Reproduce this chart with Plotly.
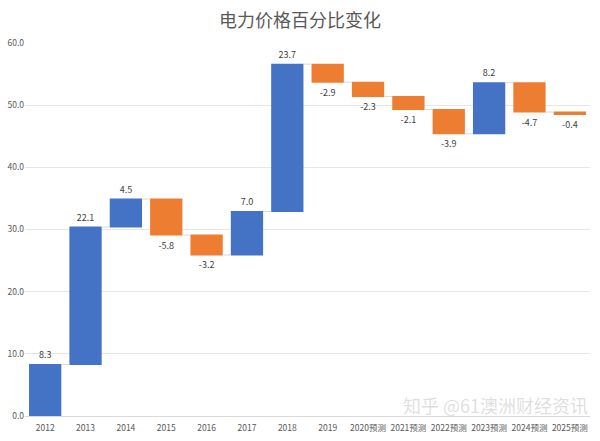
import plotly.graph_objects as go

categories = ["2012", "2013", "2014", "2015", "2016", "2017", "2018", "2019",
              "2020预测", "2021预测", "2022预测", "2023预测", "2024预测", "2025预测"]
changes = [8.3, 22.1, 4.5, -5.8, -3.2, 7.0, 23.7, -2.9, -2.3, -2.1, -3.9, 8.2, -4.7, -0.4]
y_ticks = [0, 10, 20, 30, 40, 50, 60]
title_text = "电力价格百分比变化"
watermark = "知乎 @61澳洲财经资讯"

font_family = "Noto Sans CJK SC, Noto Sans, sans-serif"

fig = go.Figure(go.Waterfall(
    x=categories,
    y=changes,
    measure=["relative"] * len(changes),
    text=[f"{v:.1f}" for v in changes],
    textposition="outside",
    textfont=dict(size=9, color="#404040", family=font_family),
    increasing=dict(marker=dict(color="#4472C4")),
    decreasing=dict(marker=dict(color="#ED7D31")),
    connector=dict(line=dict(color="#D9D9D9", width=1)),
    cliponaxis=False,
    hoverinfo="x+y",
))

fig.update_layout(
    width=600, height=441,
    margin=dict(l=25, r=10, t=43, b=25),
    paper_bgcolor="white", plot_bgcolor="white",
    title=dict(text=title_text, x=0.5, xanchor="center", y=0.952, yanchor="middle",
               font=dict(size=18, color="#595959", family=font_family)),
    showlegend=False,
    bargap=0.33,
    font=dict(family=font_family),
    xaxis=dict(
        tickfont=dict(size=8.5, color="#595959", family=font_family),
        showgrid=False, showline=True, linecolor="#D9D9D9", linewidth=1,
        ticks="", tickangle=0, ticklabelstandoff=4, automargin=False,
    ),
    yaxis=dict(
        range=[0, 60], tickvals=y_ticks, tickformat=".1f",
        tickfont=dict(size=8.5, color="#595959", family=font_family),
        showgrid=True, gridcolor="#E6E6E6", gridwidth=1,
        zeroline=False, showline=False, ticks="", automargin=False,
    ),
    annotations=[dict(
        text=watermark, xref="paper", yref="paper", x=1.0, y=0.03,
        xanchor="right", yanchor="middle", showarrow=False,
        font=dict(size=18, color="rgba(160,160,160,0.35)", family=font_family),
    )],
)

fig.write_html("out.html")
